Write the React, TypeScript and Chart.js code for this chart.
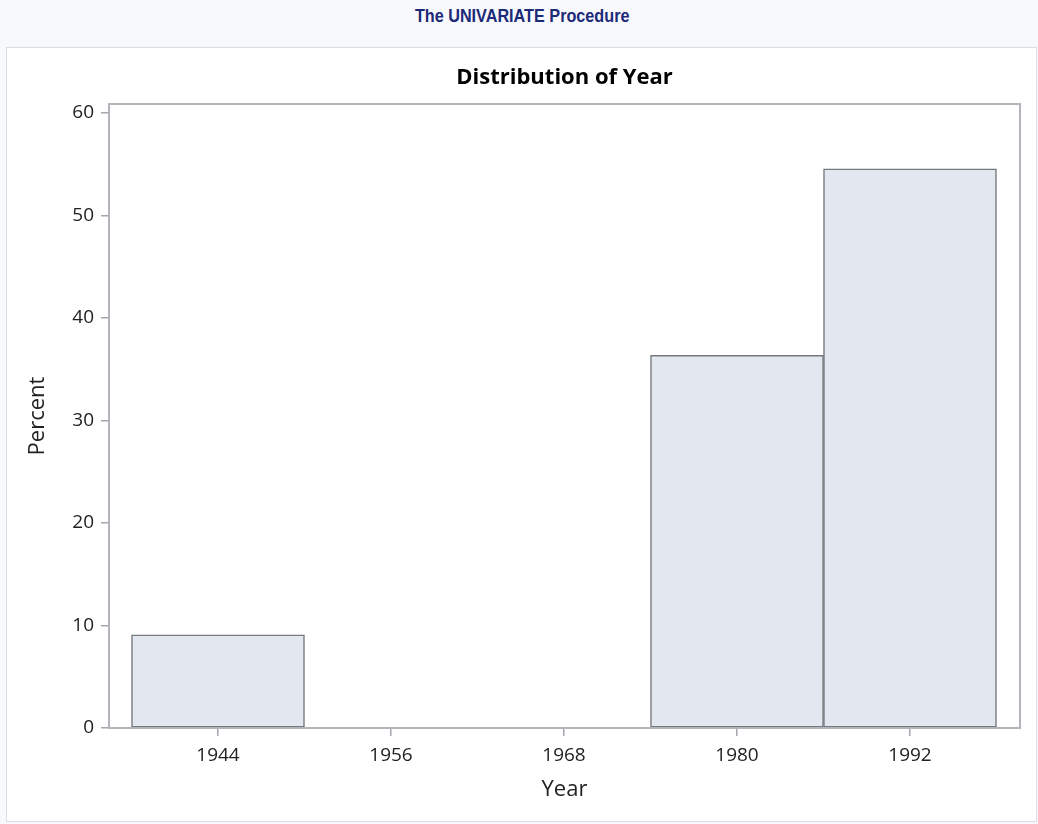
import React, { useEffect, useRef } from "react";
import { Chart, registerables } from "chart.js";

Chart.register(...registerables);

// Histogram bins (midpoints, 12-year width) and percent of observations
const binMidpoints = [1944, 1956, 1968, 1980, 1992];
const percentValues = [9.0909, 0, 0, 36.3636, 54.5455];
const yTickValues = [0, 10, 20, 30, 40, 50, 60];

const headerTitle = "The UNIVARIATE Procedure";
const chartTitle = "Distribution of Year";
const xAxisTitle = "Year";
const yAxisTitle = "Percent";

const frameColor = "#b2b5ba";
const tickColor = "#a3a6ab";
const textColor = "#222222";
const fontFamily = "'Open Sans', 'Liberation Sans', Arial, sans-serif";

// Draws the full rectangle around the plot area
const framePlugin = {
  id: "plotFrame",
  afterDraw(chart: any) {
    const { ctx, chartArea } = chart;
    ctx.save();
    ctx.strokeStyle = frameColor;
    ctx.lineWidth = 2;
    ctx.strokeRect(chartArea.left, chartArea.top, chartArea.right - chartArea.left, chartArea.bottom - chartArea.top);
    ctx.restore();
  },
};

function Histogram() {
  const canvasRef = useRef<HTMLCanvasElement | null>(null);

  useEffect(() => {
    if (!canvasRef.current) return;
    const chart = new Chart(canvasRef.current, {
      type: "bar",
      data: {
        datasets: [
          {
            data: binMidpoints.map((x, i) => ({ x, y: percentValues[i] })),
            backgroundColor: "#e3e7f0",
            borderColor: "#76787c",
            borderWidth: 1.5,
            borderSkipped: false,
            barPercentage: 1,
            categoryPercentage: 1,
          },
        ],
      },
      options: {
        animation: false,
        responsive: false,
        maintainAspectRatio: false,
        layout: { padding: { left: 0, right: 16, top: 0, bottom: 0 } },
        plugins: {
          legend: { display: false },
          tooltip: { enabled: false },
          title: {
            display: true,
            text: chartTitle,
            fullSize: false,
            color: "#000000",
            font: { family: fontFamily, size: 22, weight: "bold" },
            padding: { top: 17, bottom: 12.6 },
          },
        },
        scales: {
          x: {
            type: "linear",
            offset: false,
            min: 1936.44,
            max: 1999.63,
            afterBuildTicks: (scale: any) => {
              scale.ticks = binMidpoints.map((v) => ({ value: v }));
            },
            afterFit: (scale: any) => {
              scale.height = 93;
            },
            grid: {
              display: true,
              offset: false,
              drawOnChartArea: false,
              drawTicks: true,
              tickLength: 8,
              color: tickColor,
              lineWidth: 1.5,
            },
            border: { display: true, color: frameColor, width: 2 },
            ticks: {
              color: textColor,
              padding: 8,
              font: { family: fontFamily, size: 19 },
              callback: (v: any) => String(v),
            },
            title: {
              display: true,
              text: xAxisTitle,
              color: textColor,
              font: { family: fontFamily, size: 22 },
              padding: { top: 0, bottom: 18 },
            },
          },
          y: {
            type: "linear",
            min: 0,
            max: 60.88,
            afterBuildTicks: (scale: any) => {
              scale.ticks = yTickValues.map((v) => ({ value: v }));
            },
            afterFit: (scale: any) => {
              scale.width = 102;
            },
            grid: { display: true, drawOnChartArea: false, drawTicks: true, tickLength: 8, color: tickColor, lineWidth: 1.5 },
            border: { display: true, color: frameColor, width: 2 },
            ticks: {
              color: textColor,
              padding: 7,
              font: { family: fontFamily, size: 19 },
            },
            title: {
              display: true,
              text: yAxisTitle,
              color: textColor,
              font: { family: fontFamily, size: 22 },
              padding: { top: 18, bottom: 0 },
            },
          },
        },
      },
      plugins: [framePlugin],
    });
    return () => chart.destroy();
  }, []);

  return <canvas ref={canvasRef} width={1029} height={773} style={{ display: "block" }} />;
}

export default function App() {
  return (
    <div
      style={{
        position: "fixed",
        left: 0,
        top: 0,
        width: 1038,
        height: 824,
        background: "#f8f9fd",
        overflow: "hidden",
      }}
    >
      <div
        style={{
          position: "absolute",
          left: 0,
          top: 0,
          width: 1044,
          height: 47,
          textAlign: "center",
          lineHeight: "33px",
          fontFamily: "'Liberation Sans', Arial, sans-serif",
          fontWeight: "bold",
          fontSize: 18,
          color: "#1c2a78",
        }}
      >
        <span style={{ display: "inline-block", transform: "scaleX(0.9)" }}>{headerTitle}</span>
      </div>
      <div
        style={{
          position: "absolute",
          left: 6,
          top: 47,
          width: 1029,
          height: 773,
          border: "1px solid #dcdde1",
          background: "#ffffff",
        }}
      >
        <Histogram />
      </div>
    </div>
  );
}
